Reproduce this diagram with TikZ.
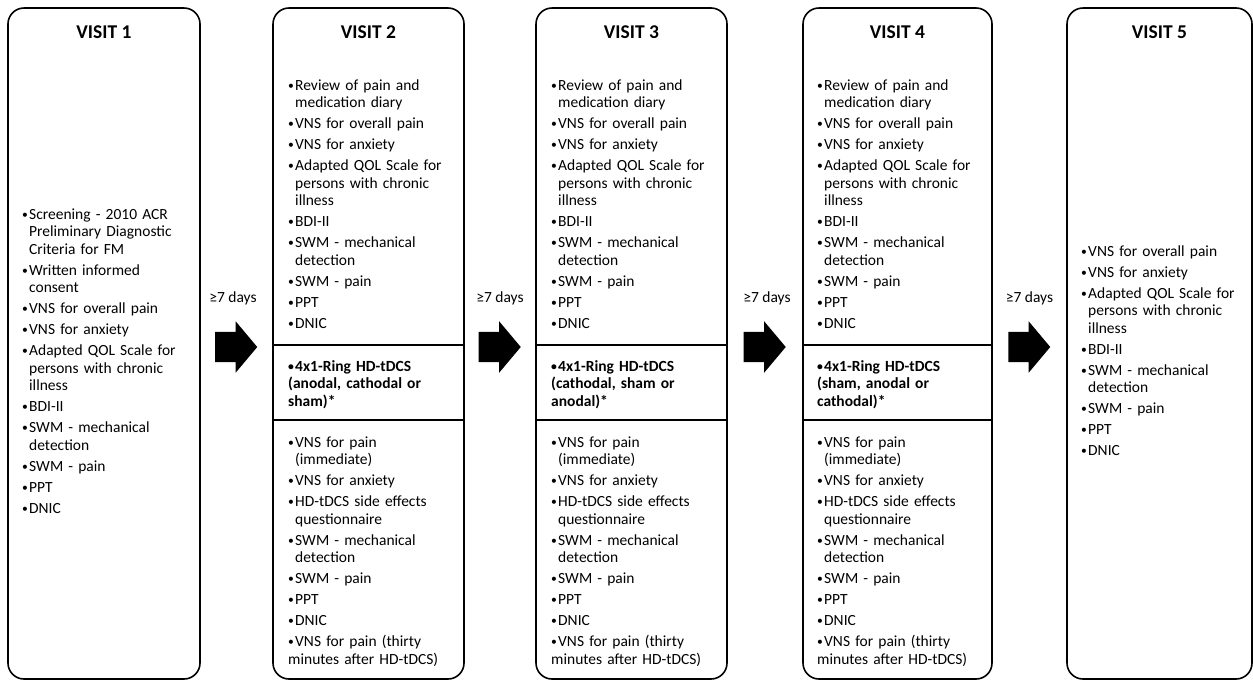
\documentclass[tikz,border=0pt]{standalone}
\usepackage{fontspec}
\setmainfont{Carlito}
\usetikzlibrary{shapes.arrows}

\newcommand{\bodyfont}{\fontsize{15.5}{17.5}\selectfont}
\newcommand{\bul}{\makebox[7pt][l]{\raisebox{0.8pt}{\scalebox{0.75}{\textbullet}}}}
\newcommand{\fitm}{\hangindent=7pt\hangafter=1\noindent\bul}
\newcommand{\itm}{\par\fitm}

% lists shared by visits 2-4
\newcommand{\prelist}{%
  \fitm Review of pain and\newline medication diary
  \itm VNS for overall pain
  \itm VNS for anxiety
  \itm Adapted QOL Scale for\newline persons with chronic\newline illness
  \itm BDI-II
  \itm SWM - mechanical\newline detection
  \itm SWM - pain
  \itm PPT
  \itm DNIC}
\newcommand{\postlist}{%
  \fitm VNS for pain\newline (immediate)
  \itm VNS for anxiety
  \itm HD-tDCS side effects\newline questionnaire
  \itm SWM - mechanical\newline detection
  \itm SWM - pain
  \itm PPT
  \itm DNIC
  \itm VNS for pain (thirty\newline minutes after HD-tDCS)}

\begin{document}
\begin{tikzpicture}[
  x=1pt, y=-1pt,
  visit/.style={rectangle, draw, line width=1.6pt, rounded corners=16pt,
                minimum width=#1, minimum height=671pt, inner sep=0pt},
  visit/.default=191pt,
  title/.style={anchor=base, inner sep=0pt,
                font=\fontsize{19.5}{23}\selectfont\bfseries},
  lst/.style={anchor=base west, inner sep=0pt, text width=185pt,
              font=\bodyfont,
              execute at begin node={\bodyfont\setlength{\parskip}{3.5pt}}},
  hdlst/.style={lst, execute at begin node={\bfseries}},
  divider/.style={line width=1.3pt},
  blockarrow/.style={single arrow, fill=black, anchor=tip, inner xsep=0pt,
                     inner ysep=15pt, single arrow head extend=10.5pt,
                     single arrow tip angle=100, minimum height=42pt},
  days/.style={anchor=base, inner sep=0pt, font=\bodyfont},
]
\useasboundingbox (0,0) rectangle (1253,681);

% ---- visits ----
\node[visit=192pt] (v1) at (104,343.5)    {};
\node[visit]       (v2) at (368.5,343.5)  {};
\node[visit]       (v3) at (631.5,343.5)  {};
\node[visit=189pt] (v4) at (897.5,343.5)  {};
\node[visit=185pt] (v5) at (1159.5,343.5) {};

\node[title] (t1) at (104,38)    {VISIT 1};
\node[title] (t2) at (368.5,38)  {VISIT 2};
\node[title] (t3) at (631.5,38)  {VISIT 3};
\node[title] (t4) at (897.5,38)  {VISIT 4};
\node[title] (t5) at (1159.5,38) {VISIT 5};

% ---- section lines ----
\foreach \v in {v2,v3,v4} {
  \draw[divider] (\v.west |- 0,345) -- (\v.east |- 0,345);
  \draw[divider] (\v.west |- 0,420) -- (\v.east |- 0,420);
}

% ---- visit 1 ----
\node[lst] (l1) at (22,219) {%
  \fitm Screening - 2010 ACR\newline Preliminary Diagnostic\newline Criteria for FM
  \itm Written informed\newline consent
  \itm VNS for overall pain
  \itm VNS for anxiety
  \itm Adapted QOL Scale for\newline persons with chronic\newline illness
  \itm BDI-II
  \itm SWM - mechanical\newline detection
  \itm SWM - pain
  \itm PPT
  \itm DNIC};

% ---- visits 2-4 ----
\node[lst] (p2) at (288,90) {\prelist};
\node[lst] (p3) at (551,90) {\prelist};
\node[lst] (p4) at (817,90) {\prelist};

\node[hdlst] (s2) at (288,371) {\fitm 4x1-Ring HD-tDCS\newline (anodal, cathodal or\newline sham)*};
\node[hdlst] (s3) at (551,371) {\fitm 4x1-Ring HD-tDCS\newline (cathodal, sham or\newline anodal)*};
\node[hdlst] (s4) at (817,371) {\fitm 4x1-Ring HD-tDCS\newline (sham, anodal or\newline cathodal)*};

\node[lst] (q2) at (288,447) {\postlist};
\node[lst] (q3) at (551,447) {\postlist};
\node[lst] (q4) at (817,447) {\postlist};

% ---- visit 5 ----
\node[lst] (l5) at (1081,256) {%
  \fitm VNS for overall pain
  \itm VNS for anxiety
  \itm Adapted QOL Scale for\newline persons with chronic\newline illness
  \itm BDI-II
  \itm SWM - mechanical\newline detection
  \itm SWM - pain
  \itm PPT
  \itm DNIC};

% ---- intervals ----
\node[blockarrow] (a1) at (257.5,347)  {};
\node[blockarrow] (a2) at (521,347)    {};
\node[blockarrow] (a3) at (786,347)    {};
\node[blockarrow] (a4) at (1050.5,347) {};

\node[days] (d1) at (233,302)    {≥7 days};
\node[days] (d2) at (500,302)    {≥7 days};
\node[days] (d3) at (767,302)    {≥7 days};
\node[days] (d4) at (1029.5,302) {≥7 days};

\end{tikzpicture}
\end{document}
